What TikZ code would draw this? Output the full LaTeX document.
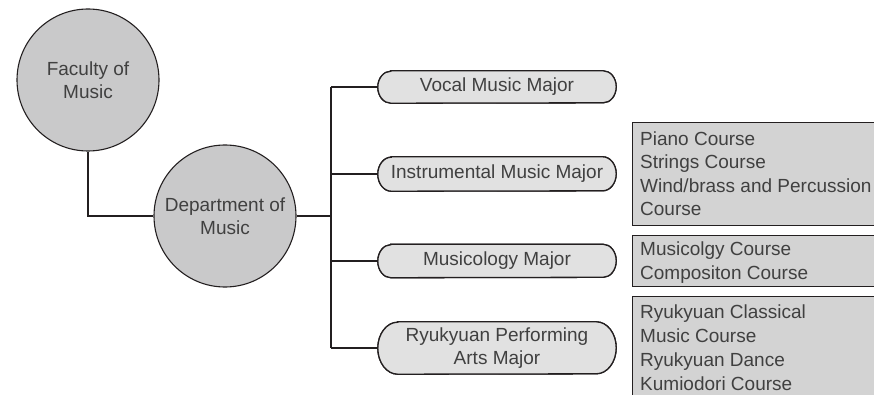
\documentclass[tikz,border=0pt]{standalone}
\usepackage{fontspec}
\setmainfont{Liberation Sans}
\usetikzlibrary{backgrounds}
\definecolor{circfill}{HTML}{C9C9CA}
\definecolor{pillfill}{HTML}{E1E1E1}
\definecolor{boxfill}{HTML}{D3D3D3}
\definecolor{ink}{HTML}{404040}
\definecolor{edge}{HTML}{231F20}
\newcommand\pillpath[3]{%
  \path[pillshadow] ([xshift=#2pt]#1.north west) -- ([xshift=-#2pt]#1.north east)
    arc[start angle=90,end angle=-90,x radius=#2pt,y radius=#3pt]
    -- ([xshift=#2pt]#1.south west)
    arc[start angle=270,end angle=90,x radius=#2pt,y radius=#3pt] -- cycle;
  \path[pilledge] ([xshift=#2pt]#1.north west) -- ([xshift=-#2pt]#1.north east)
    arc[start angle=90,end angle=-90,x radius=#2pt,y radius=#3pt]
    -- ([xshift=#2pt]#1.south west)
    arc[start angle=270,end angle=90,x radius=#2pt,y radius=#3pt] -- cycle;}
\begin{document}
\begin{tikzpicture}[x=1pt,y=-1pt,
  txt/.style={text=ink, font=\fontsize{19}{23.5}\selectfont},
  circ/.style={txt, circle, draw=edge, line width=1.1pt, fill=circfill,
    minimum size=142pt, inner sep=0pt, align=center},
  pilltext/.style={txt, minimum width=238pt, inner sep=0pt, align=center},
  pilledge/.style={draw=edge, line width=1.3pt, fill=pillfill},
  pillshadow/.style={draw=edge, line width=1.3pt, shift={(0.8,0.8)}},
  boxedge/.style={draw=edge, line width=1pt, fill=boxfill},
  coursetext/.style={txt, anchor=north west, inner sep=0pt, align=left},
  link/.style={draw=edge, line width=1.1pt}]
\useasboundingbox (0,0) rectangle (874,395);
\clip (0,0) rectangle (874,395);
% circles
\node[circ] (fac) at (88,80) {Faculty of\\Music};
\node[circ] (dept) at (225,216) {Department of\\Music};
% majors
\node[pilltext, minimum height=32pt] (vocal) at (497,87) {Vocal Music Major};
\node[pilltext, minimum height=34pt] (instr) at (497,174) {Instrumental Music Major};
\node[pilltext, minimum height=33pt] (musi) at (497,261) {Musicology Major};
\node[pilltext, minimum height=52pt] (ryu) at (497,348) {Ryukyuan Performing\\Arts Major};
\begin{scope}[on background layer]
  \pillpath{vocal}{13}{16}
  \pillpath{instr}{13.5}{17}
  \pillpath{musi}{13}{16.5}
  \pillpath{ryu}{20}{26}
  % connectors
  \coordinate (bustop) at (331,87);
  \coordinate (busbot) at (331,348);
  \draw[link] (fac.south) |- (dept.west);
  \draw[link] (dept.east) -- (dept.east -| bustop);
  \draw[link] (bustop) -- (busbot);
  \draw[link] (vocal.west -| bustop) -- (vocal.west);
  \draw[link] (instr.west -| bustop) -- (instr.west);
  \draw[link] (musi.west -| bustop) -- (musi.west);
  \draw[link] (ryu.west -| bustop) -- (ryu.west);
  % course boxes
  \draw[boxedge] (632,123) rectangle (884,225);
  \draw[boxedge] (632,235) rectangle (884,286);
  \draw[boxedge] (632,296) rectangle (884,405);
\end{scope}
\node[coursetext] (c1) at (640,131.5) {Piano Course\\Strings Course\\Wind/brass and Percussion\\Course};
\node[coursetext] (c2) at (640,242) {Musicolgy Course\\Compositon Course};
\node[coursetext, font=\fontsize{19}{24}\selectfont] (c3) at (640,305) {Ryukyuan Classical\\Music Course\\Ryukyuan Dance\\Kumiodori Course};
\end{tikzpicture}
\end{document}
